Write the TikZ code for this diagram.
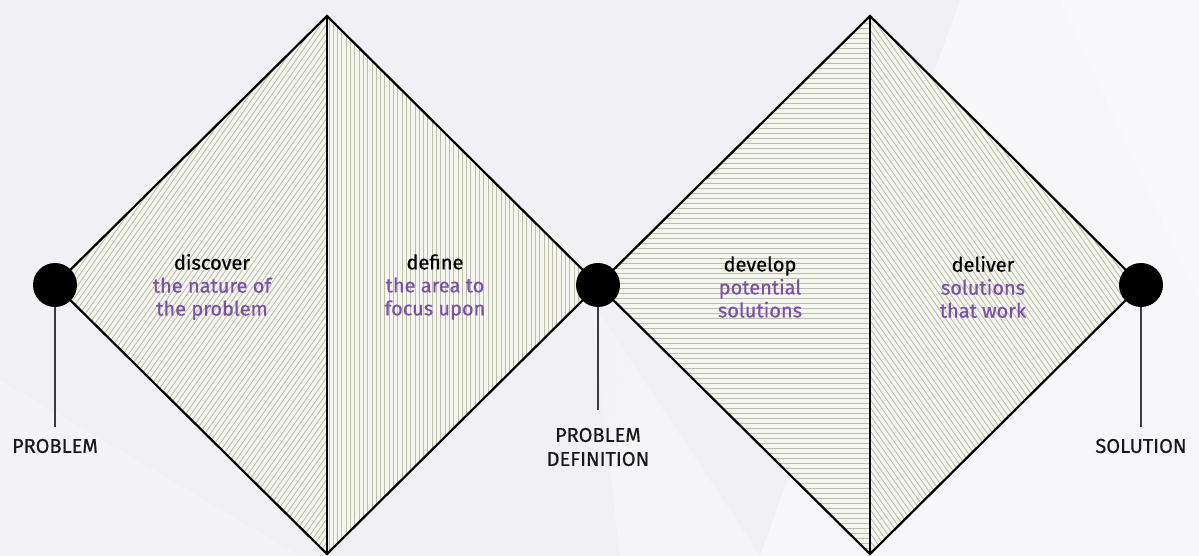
\documentclass[tikz,border=0pt]{standalone}
\usepackage{fontspec}
\setmainfont{Fira Sans}[FakeBold=0.5]
\usetikzlibrary{positioning, calc}
\usepackage{xcolor}
\definecolor{backdrop}{RGB}{241, 240, 244}
\definecolor{paper}{RGB}{246, 246, 240}
\definecolor{hatchline}{RGB}{188, 190, 170}
\definecolor{phase}{RGB}{122, 80, 168}
\definecolor{stemgray}{RGB}{60, 60, 60}

\begin{document}
\begin{tikzpicture}[x=1pt, y=-1pt,
        hatch/.style={hatchline, line width=0.9pt},
        outline/.style={black, line width=2.2pt, line join=miter},
        milestone/.style={circle, fill=black, minimum size=44pt, inner sep=0pt},
        stem/.style={stemgray, line width=1.3pt},
        endlabel/.style={font=\fontsize{20}{24}\selectfont, align=center, text=black!90},
        stagetext/.style={font=\fontsize{20}{23}\selectfont, align=center}]
        \useasboundingbox (0,0) rectangle (1199,556);
        \fill[backdrop] (0,0) rectangle (1199,556);
        \fill[white, opacity=0.45] (960,0) -- (1199,0) -- (1199,556) -- (760,556) -- cycle;
        \fill[white, opacity=0.3] (1060,0) -- (1199,0) -- (1199,300) -- cycle;
        \fill[white, opacity=0.25] (0,380) -- (300,556) -- (0,556) -- cycle;
        \fill[white, opacity=0.3] (590,300) -- (760,556) -- (620,556) -- cycle;
        \fill[black!5, opacity=0.3] (560,0) -- (650,40) -- (600,556) -- (490,556) -- cycle;

        \coordinate (t1) at (327,16);  \coordinate (b1) at (327,554);
        \coordinate (t2) at (870,16);  \coordinate (b2) at (870,554);
        \coordinate (p1) at (55,285);  \coordinate (p2) at (598,285);  \coordinate (p3) at (1141,285);

        % discover
        \begin{scope}
            \clip (p1) -- (t1) -- (b1) -- cycle;
            \fill[paper] (0,0) rectangle (600,556);
            \foreach \s in {-340,-334.5,...,330} { \draw[hatch] (\s,560) -- ++(392,-560); }
        \end{scope}
        % define
        \begin{scope}
            \clip (t1) -- (p2) -- (b1) -- cycle;
            \fill[paper] (0,0) rectangle (600,556);
            \foreach \s in {329,333.3,...,598} { \draw[hatch] (\s,0) -- (\s,556); }
        \end{scope}
        % develop
        \begin{scope}
            \clip (p2) -- (t2) -- (b2) -- cycle;
            \fill[paper] (590,0) rectangle (880,556);
            \foreach \s in {18,23,...,556} { \draw[hatch] (590,\s) -- (880,\s); }
        \end{scope}
        % deliver
        \begin{scope}
            \clip (t2) -- (p3) -- (b2) -- cycle;
            \fill[paper] (860,0) rectangle (1150,556);
            \foreach \s in {475,480.5,...,1145} { \draw[hatch] (\s,0) -- ++(392,560); }
        \end{scope}

        \draw[outline] (p1) -- (t1) -- (p2) -- (t2) -- (p3) -- (b2) -- (p2) -- (b1) -- cycle;
        \draw[outline] (t1) -- (b1);
        \draw[outline] (t2) -- (b2);

        \node[milestone] (problem) at (p1) {};
        \node[milestone] (definition) at (p2) {};
        \node[milestone] (solution) at (p3) {};

        \node[endlabel] (problemlbl) at (55,446) {PROBLEM};
        \node[endlabel] (definitionlbl) at (598,447) {PROBLEM\\DEFINITION};
        \node[endlabel] (solutionlbl) at (1141,446) {SOLUTION};
        \draw[stem] (problem.south) -- ([yshift=8pt]problemlbl.north);
        \draw[stem] (definition.south) -- ([yshift=14pt]definitionlbl.north);
        \draw[stem] (solution.south) -- ([yshift=8pt]solutionlbl.north);

        \node[stagetext] (discover) at (212,287) {discover\\\textcolor{phase}{the nature of}\\\textcolor{phase}{the problem}};
        \node[stagetext] (define) at (435,287) {define\\\textcolor{phase}{the area to}\\\textcolor{phase}{focus upon}};
        \node[stagetext] (develop) at (760,287) {develop\\\textcolor{phase}{potential}\\\textcolor{phase}{solutions}};
        \node[stagetext] (deliver) at (983,287) {deliver\\\textcolor{phase}{solutions}\\\textcolor{phase}{that work}};
    \end{tikzpicture}
\end{document}
